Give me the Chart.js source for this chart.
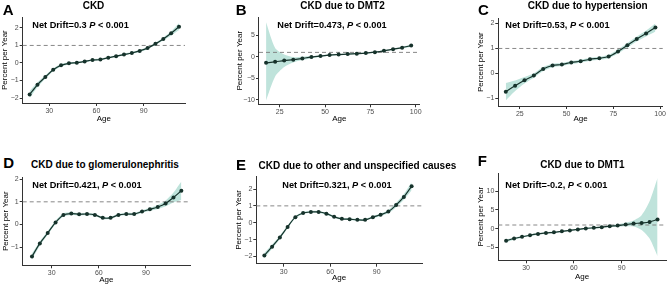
<!DOCTYPE html>
<html>
<head>
<meta charset="utf-8">
<script src="https://cdn.jsdelivr.net/npm/chart.js@4.4.1/dist/chart.umd.min.js"></script>
<style>
  html, body { margin: 0; padding: 0; background: #fff; }
  body { width: 669px; height: 287px; position: relative; overflow: hidden; font-family: "Liberation Sans", Arial, sans-serif; }
  canvas { position: absolute; }
  .t { position: absolute; white-space: nowrap; line-height: 1; color: #000; font-weight: bold; }
</style>
</head>
<body>
<script>
// age group midpoints
const ages20 = [17.5, 22.5, 27.5, 32.5, 37.5, 42.5, 47.5, 52.5, 57.5, 62.5, 67.5, 72.5, 77.5, 82.5, 87.5, 92.5, 97.5, 102.5, 107.5, 112.5];
const ages17 = [17.5, 22.5, 27.5, 32.5, 37.5, 42.5, 47.5, 52.5, 57.5, 62.5, 67.5, 72.5, 77.5, 82.5, 87.5, 92.5, 97.5];

// A: CKD
const ckdVal = [-1.80, -1.24, -0.80, -0.39, -0.13, -0.02, 0.02, 0.09, 0.17, 0.20, 0.30, 0.39, 0.48, 0.57, 0.69, 0.85, 1.09, 1.37, 1.69, 2.07];
const ckdLo  = [-2.00, -1.38, -0.90, -0.47, -0.20, -0.08, -0.03, 0.04, 0.12, 0.15, 0.25, 0.34, 0.43, 0.52, 0.63, 0.79, 1.02, 1.28, 1.57, 1.88];
const ckdHi  = [-1.60, -1.10, -0.70, -0.31, -0.06, 0.04, 0.07, 0.14, 0.22, 0.25, 0.35, 0.44, 0.53, 0.62, 0.75, 0.91, 1.16, 1.46, 1.81, 2.26];

// B: CKD due to DMT2
const dmt2Val = [-1.44, -1.20, -0.90, -0.70, -0.40, -0.10, 0.15, 0.38, 0.50, 0.60, 0.70, 0.83, 1.06, 1.36, 1.74, 2.10, 2.58];
const dmt2Lo  = [-10.2, -4.6, -2.4, -1.35, -0.80, -0.35, -0.05, 0.20, 0.33, 0.45, 0.55, 0.68, 0.90, 1.20, 1.56, 1.88, 2.30];
const dmt2Hi  = [8.0, 2.0, 0.5, -0.10, 0.00, 0.15, 0.35, 0.56, 0.67, 0.75, 0.85, 0.98, 1.22, 1.52, 1.92, 2.32, 2.86];

// C: CKD due to hypertension
const htnVal = [-0.73, -0.49, -0.27, -0.08, 0.18, 0.32, 0.36, 0.44, 0.49, 0.57, 0.61, 0.68, 0.88, 1.13, 1.38, 1.60, 1.84];
const htnLo  = [-1.08, -0.70, -0.40, -0.17, 0.10, 0.25, 0.30, 0.38, 0.43, 0.51, 0.55, 0.61, 0.80, 1.04, 1.28, 1.48, 1.68];
const htnHi  = [-0.38, -0.28, -0.14, 0.01, 0.26, 0.39, 0.42, 0.50, 0.55, 0.63, 0.67, 0.75, 0.96, 1.22, 1.48, 1.72, 2.00];

// D: CKD due to glomerulonephritis
const gnVal = [-1.42, -0.84, -0.38, 0.09, 0.42, 0.48, 0.45, 0.46, 0.42, 0.29, 0.29, 0.42, 0.46, 0.46, 0.57, 0.67, 0.77, 0.93, 1.19, 1.49];
const gnLo  = [-1.55, -0.94, -0.46, 0.02, 0.35, 0.42, 0.40, 0.41, 0.37, 0.24, 0.24, 0.37, 0.41, 0.41, 0.51, 0.60, 0.68, 0.80, 0.97, 1.08];
const gnHi  = [-1.29, -0.74, -0.30, 0.16, 0.49, 0.54, 0.50, 0.51, 0.47, 0.34, 0.34, 0.47, 0.51, 0.51, 0.63, 0.74, 0.86, 1.06, 1.41, 1.90];

// E: CKD due to other and unspecified causes
const othVal = [-1.94, -1.42, -0.87, -0.25, 0.33, 0.58, 0.64, 0.64, 0.54, 0.35, 0.23, 0.21, 0.17, 0.17, 0.33, 0.47, 0.66, 1.05, 1.53, 2.16];
const othLo  = [-2.10, -1.55, -0.97, -0.33, 0.26, 0.52, 0.58, 0.58, 0.48, 0.29, 0.17, 0.15, 0.11, 0.11, 0.26, 0.39, 0.56, 0.92, 1.36, 1.92];
const othHi  = [-1.78, -1.29, -0.77, -0.17, 0.40, 0.64, 0.70, 0.70, 0.60, 0.41, 0.29, 0.27, 0.23, 0.23, 0.40, 0.55, 0.76, 1.18, 1.70, 2.40];

// F: CKD due to DMT1
const dmt1Val = [-3.19, -2.60, -2.15, -1.72, -1.38, -1.12, -0.95, -0.69, -0.43, -0.17, 0.09, 0.26, 0.43, 0.69, 0.86, 1.12, 1.38, 1.55, 1.81, 2.50];
const dmt1Lo  = [-3.6, -2.9, -2.4, -1.95, -1.6, -1.32, -1.15, -0.88, -0.62, -0.36, -0.10, 0.06, 0.22, 0.45, 0.55, 0.65, 0.60, -0.30, -2.6, -7.3];
const dmt1Hi  = [-2.8, -2.3, -1.9, -1.5, -1.16, -0.92, -0.75, -0.50, -0.24, 0.02, 0.28, 0.46, 0.64, 0.93, 1.17, 1.60, 2.20, 3.60, 7.3, 13.5];

const LINE = "#16322b";
const RIBBON = "#bfe3db";
const FONT = '"Liberation Sans", Arial, sans-serif';

Chart.defaults.font.family = FONT;

// layout of each panel (plot area in page pixels)
const panels = [
  { letter: "A", title: "CKD", drift: "0.3", comma: false, ages: ages20, val: ckdVal, lo: ckdLo, hi: ckdHi,
    x: [13.1, 116.3, 30], y: [-2.28, 2.61, 1], area: { l: 22.7, t: 15, r: 185, b: 103 }, yW: 22.5, ageDy: 15.3,
    letterPos: [2.7, 15], titlePos: [93.5, 9.5], driftPos: [32.3, 29] },
  { letter: "B", title: "CKD due to DMT2", drift: "0.473", comma: true, ages: ages17, val: dmt2Val, lo: dmt2Lo, hi: dmt2Hi,
    x: [13.6, 102.2, 25], y: [-11.1, 9.2, 5], area: { l: 259, t: 15, r: 419.7, b: 104.3 }, yW: 24.3, ageDy: 14,
    letterPos: [235.7, 15], titlePos: [342.5, 9.5], driftPos: [277.3, 28.5] },
  { letter: "C", title: "CKD due to hypertension", drift: "0.53", comma: true, ages: ages17, val: htnVal, lo: htnLo, hi: htnHi,
    x: [13.5, 101.4, 25], y: [-1.30, 2.21, 1], area: { l: 498.3, t: 16, r: 664, b: 106 }, yW: 22.1, ageDy: 12.8,
    letterPos: [478, 15], titlePos: [587.7, 9.5], driftPos: [505.3, 28.5] },
  { letter: "D", title: "CKD due to glomerulonephritis", drift: "0.421", comma: true, ages: ages20, val: gnVal, lo: gnLo, hi: gnHi,
    x: [11.6, 118, 30], y: [-1.81, 2.09, 1], area: { l: 22.7, t: 175.7, r: 190, b: 265.3 }, yW: 21.5, ageDy: 14.4,
    letterPos: [3.3, 168], titlePos: [105, 168], driftPos: [32.3, 189] },
  { letter: "E", title: "CKD due to other and unspecified causes", drift: "0.321", comma: true, ages: ages20, val: othVal, lo: othLo, hi: othHi,
    x: [12.3, 119.2, 30], y: [-2.43, 2.76, 1], area: { l: 256.3, t: 174.7, r: 422, b: 263.7 }, yW: 22.1, ageDy: 14.3,
    letterPos: [236, 169.5], titlePos: [357.4, 169], driftPos: [282.3, 189] },
  { letter: "F", title: "CKD due to DMT1", drift: "-0.2", comma: true, ages: ages20, val: dmt1Val, lo: dmt1Lo, hi: dmt1Hi,
    x: [12.6, 117.8, 30], y: [-8.4, 14.8, 5], area: { l: 498.3, t: 171.3, r: 666, b: 260.3 }, yW: 22.1, ageDy: 16.7,
    letterPos: [477.7, 165.7], titlePos: [582.4, 168], driftPos: [505.3, 189] }
];

// dashed reference line at 1 % per year, drawn over the ribbon but under the estimate line
const refLine = {
  id: "refLine",
  beforeDatasetDraw(chart, args) {
    if (args.index !== 0) return;
    const { ctx, chartArea, scales } = chart;
    const y = scales.y.getPixelForValue(1);
    ctx.save();
    ctx.strokeStyle = "#7a7a7a";
    ctx.lineWidth = 0.9;
    ctx.setLineDash([4, 3]);
    ctx.beginPath();
    ctx.moveTo(chartArea.left, y);
    ctx.lineTo(chartArea.right, y);
    ctx.stroke();
    ctx.restore();
  }
};

function addText(html, left, baseline, size, center) {
  const d = document.createElement("div");
  d.className = "t";
  d.innerHTML = html;
  d.style.fontSize = size + "px";
  d.style.left = left + "px";
  d.style.top = (baseline - 0.8465 * size) + "px";
  if (center) d.style.transform = "translateX(-50%)";
  document.body.appendChild(d);
}

const minus = v => String(v).replace("-", "\u2212");

for (const p of panels) {
  const xH = p.ageDy + 4.8;
  const L = Math.floor(p.area.l - p.yW);
  const T = Math.floor(p.area.t) - 3;
  const W = Math.ceil(p.area.r) + 3 - L;
  const H = Math.ceil(p.area.b + xH) + 1 - T;

  const canvas = document.createElement("canvas");
  canvas.width = W;
  canvas.height = H;
  canvas.style.left = L + "px";
  canvas.style.top = T + "px";
  canvas.style.width = W + "px";
  canvas.style.height = H + "px";
  document.body.appendChild(canvas);

  const pts = arr => p.ages.map((a, i) => ({ x: a, y: arr[i] }));

  new Chart(canvas, {
    type: "line",
    data: {
      datasets: [
        { data: pts(p.val), borderColor: LINE, borderWidth: 1.2, pointRadius: 2, pointBackgroundColor: LINE,
          pointBorderWidth: 0, fill: false, tension: 0.3, order: 0 },
        { data: pts(p.hi), borderWidth: 0, pointRadius: 0, fill: false, tension: 0.25, order: 1 },
        { data: pts(p.lo), borderWidth: 0, pointRadius: 0, fill: "-1", backgroundColor: RIBBON, tension: 0.25, order: 2 }
      ]
    },
    options: {
      responsive: false,
      devicePixelRatio: 1,
      animation: false,
      layout: {
        autoPadding: false,
        padding: {
          left: p.area.l - p.yW - L,
          top: p.area.t - T,
          right: L + W - p.area.r,
          bottom: T + H - (p.area.b + xH)
        }
      },
      plugins: { legend: { display: false }, tooltip: { enabled: false } },
      scales: {
        x: {
          type: "linear", min: p.x[0], max: p.x[1],
          border: { display: true, color: "#333", width: 1 },
          grid: { display: true, drawOnChartArea: false, drawTicks: true, tickLength: 3, color: "#333" },
          ticks: { stepSize: p.x[2], includeBounds: false, color: "#4d4d4d", font: { size: 7 }, padding: 1,
                   maxRotation: 0, autoSkip: false, callback: minus },
          title: { display: true, text: "Age", color: "#000", font: { size: 8 }, padding: 0 },
          afterFit: s => { s.height = xH; }
        },
        y: {
          type: "linear", min: p.y[0], max: p.y[1],
          border: { display: true, color: "#333", width: 1 },
          grid: { display: true, drawOnChartArea: false, drawTicks: true, tickLength: 3, color: "#333" },
          ticks: { stepSize: p.y[2], includeBounds: false, color: "#4d4d4d", font: { size: 7 }, padding: 1,
                   autoSkip: false, callback: minus },
          title: { display: true, text: "Percent per Year", color: "#000", font: { size: 8 }, padding: 0 },
          afterFit: s => { s.width = p.yW; }
        }
      }
    },
    plugins: [refLine]
  });

  addText(p.letter, p.letterPos[0], p.letterPos[1], 15, false);
  addText(p.title, p.titlePos[0], p.titlePos[1], 10, true);
  addText("Net Drift=" + p.drift + (p.comma ? "," : "") + " <i>P</i> &lt; 0.001", p.driftPos[0], p.driftPos[1], 9.2, false);
}
</script>
</body>
</html>
